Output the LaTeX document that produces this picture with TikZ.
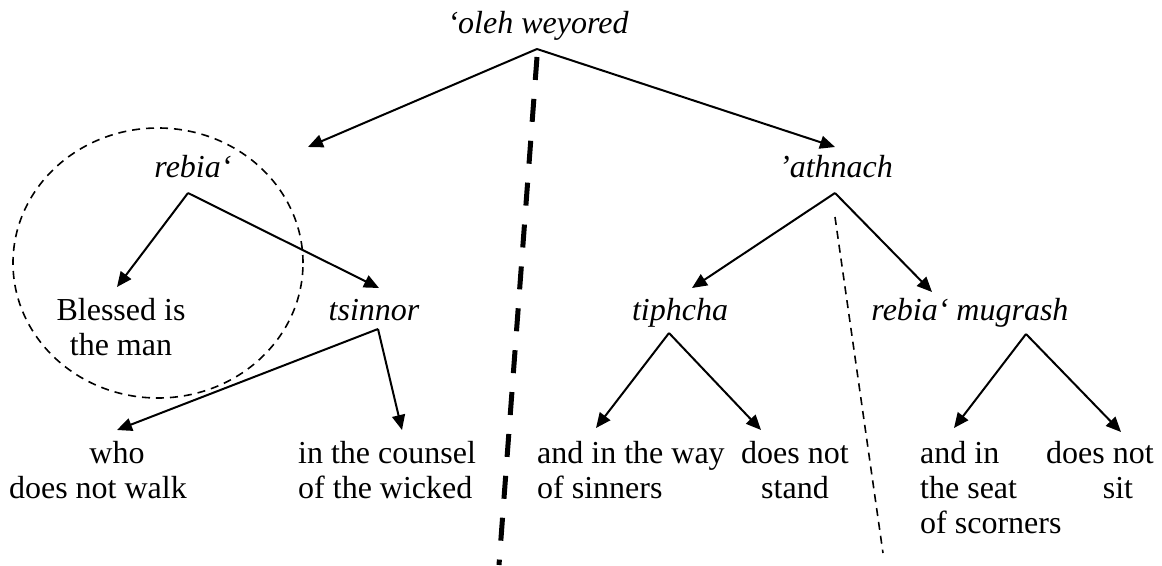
\documentclass[tikz,border=0pt]{standalone}
\usepackage{fontspec}
\setmainfont{Liberation Serif}
\usetikzlibrary{arrows.meta}
\begin{document}
\begin{tikzpicture}[x=1pt,y=-1pt,
  lbl/.style={anchor=base, inner sep=0pt, align=center, font=\fontsize{32}{35}\selectfont},
  itlbl/.style={lbl, font=\fontsize{32}{35}\selectfont\itshape},
  arr/.style={line width=2pt, -{Triangle[length=15pt,width=13pt]}},
  thickdash/.style={line width=5pt, dash pattern=on 23pt off 19pt},
  thindash/.style={line width=1.6pt, dash pattern=on 8pt off 6pt}]
\useasboundingbox (0,0) rectangle (1162,565);

% top
\node[itlbl] (oleh) at (538,33) {‘oleh weyored};
\coordinate (oa) at (537,49);
\coordinate (ol) at (308,147);
\coordinate (or) at (835,147);
\draw[arr] (oa) -- (ol);
\draw[arr] (oa) -- (or);

% left half
\node[itlbl] (rebia) at (193,177) {rebia‘};
\coordinate (ra) at (188,193);
\coordinate (rl) at (117,287);
\coordinate (rr) at (379,288);
\draw[arr] (ra) -- (rl);
\draw[arr] (ra) -- (rr);

% multi-line nodes: base anchor = baseline of last line
\node[lbl] (blessed) at (121,355) {Blessed is\\the man};
\node[itlbl] (tsinnor) at (374,320) {tsinnor};
\coordinate (ta) at (378,329);
\coordinate (tl) at (117,430);
\coordinate (tr) at (402,430);
\draw[arr] (ta) -- (tl);
\draw[arr] (ta) -- (tr);

\node[lbl] (who) at (98,498) {\hspace*{38pt}who\\does not walk};
\node[lbl, align=left, anchor=base west] (counsel) at (298,498) {in the counsel\\of the wicked};

\draw[thindash] (158,263) ellipse [x radius=145pt, y radius=135pt];

% right half
\node[itlbl] (athnach) at (836,177) {’athnach};
\coordinate (aa) at (835,193);
\coordinate (al) at (692,288);
\coordinate (ar) at (932,292);
\draw[arr] (aa) -- (al);
\draw[arr] (aa) -- (ar);

\node[itlbl] (tiphcha) at (680,320) {tiphcha};
\coordinate (pa) at (669,333);
\coordinate (pl) at (596,428);
\coordinate (pr) at (761,430);
\draw[arr] (pa) -- (pl);
\draw[arr] (pa) -- (pr);

\node[itlbl] (mugrash) at (970,320) {rebia‘ mugrash};
\coordinate (ma) at (1026,334);
\coordinate (ml) at (954,428);
\coordinate (mr) at (1121,432);
\draw[arr] (ma) -- (ml);
\draw[arr] (ma) -- (mr);

\node[lbl, align=left, anchor=base west] (way) at (537,498) {and in the way\\of sinners};
\node[lbl] (stand) at (795,498) {does not\\stand};
\node[lbl, align=left, anchor=base west] (scorners) at (920,533) {and in\\the seat\\of scorners};
\node[lbl] (sit) at (1100,498) {does not\\\hspace*{36pt}sit};

% dividers
\coordinate (td1) at (537,57);
\coordinate (td2) at (499,565);
\draw[thickdash] (td1) -- (td2);
\coordinate (tn1) at (835,217);
\coordinate (tn2) at (883,553);
\draw[thindash] (tn1) -- (tn2);
\end{tikzpicture}
\end{document}
